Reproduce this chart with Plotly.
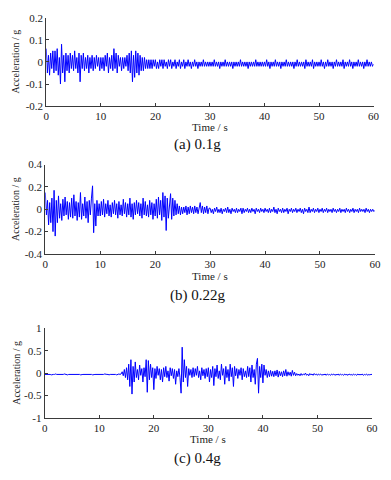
import numpy as np
import plotly.graph_objects as go

DT = 0.2  # sampling step of the digitised records, s

# ---------------- (a) 0.1g ----------------
acc_a = [
    0.06, -0.05, 0.03, -0.06, 0.04, -0.03, 0.05, -0.05, 0.05, -0.04, 0.06, -0.06, 0.02, -0.10, 0.08, -0.05, 0.03, -0.09, 0.04, -0.04, 0.03, -0.05, 0.04, -0.03, 0.03,
    -0.04, 0.05, -0.03, 0.02, -0.05, 0.04, -0.09, 0.03, -0.03, 0.04, -0.04, 0.02, -0.03, 0.03, -0.05, 0.02, -0.03, 0.03, -0.04, 0.02, -0.03, 0.03, -0.02, 0.02, -0.04,
    0.02, -0.03, 0.02, -0.04, 0.03, -0.02, 0.04, -0.05, 0.02, -0.03, 0.03, -0.04, 0.06, -0.03, 0.04, -0.05, 0.03, -0.02, 0.02, -0.04, 0.02, -0.03, 0.02, -0.02, 0.03,
    -0.04, 0.04, -0.05, 0.05, -0.09, 0.03, -0.07, 0.05, -0.05, 0.04, -0.06, 0.03, -0.04, 0.02, -0.04, 0.02, -0.03, 0.01, -0.03, 0.01, -0.03, 0.01, -0.03, 0.01, -0.02,
    0.01, -0.03, 0.00, -0.03, 0.01, -0.02, 0.01, -0.03, 0.01, -0.02, 0.00, -0.03, 0.01, -0.02, 0.01, -0.03, 0.00, -0.02, 0.01, -0.03, 0.00, -0.02, 0.01, -0.03, 0.00,
    -0.02, 0.01, -0.03, 0.00, -0.02, 0.01, -0.02, 0.00, -0.03, 0.00, -0.02, 0.01, -0.02, 0.00, -0.03, 0.00, -0.02, 0.00, -0.02, 0.01, -0.02, 0.00, -0.02, 0.00, -0.02,
    0.00, -0.02, 0.00, -0.02, 0.01, -0.02, 0.00, -0.02, 0.00, -0.03, 0.00, -0.02, 0.00, -0.02, 0.01, -0.02, 0.00, -0.02, 0.00, -0.02, 0.00, -0.03, 0.00, -0.02, 0.00,
    -0.02, 0.00, -0.02, 0.01, -0.02, 0.00, -0.02, 0.00, -0.02, 0.00, -0.03, 0.00, -0.02, 0.00, -0.02, 0.00, -0.02, 0.01, -0.02, 0.00, -0.02, 0.00, -0.02, 0.00, -0.02,
    0.00, -0.02, 0.01, -0.02, 0.00, -0.03, 0.00, -0.02, 0.00, -0.02, 0.01, -0.02, 0.00, -0.02, 0.00, -0.03, 0.00, -0.02, 0.00, -0.02, 0.01, -0.02, 0.00, -0.02, 0.00,
    -0.02, 0.00, -0.03, 0.00, -0.02, 0.01, -0.02, 0.00, -0.02, 0.00, -0.02, 0.00, -0.03, 0.01, -0.02, 0.00, -0.02, 0.00, -0.02, 0.01, -0.03, 0.00, -0.02, 0.00, -0.02,
    0.00, -0.02, 0.01, -0.02, 0.00, -0.03, 0.00, -0.02, 0.01, -0.02, 0.00, -0.02, 0.00, -0.03, 0.00, -0.02, 0.01, -0.02, 0.00, -0.02, 0.00, -0.02, 0.01, -0.03, 0.00,
    -0.02, 0.00, -0.02, 0.01, -0.02, 0.00, -0.03, 0.00, -0.02, 0.00, -0.02, 0.01, -0.02, 0.00, -0.02, 0.00, -0.03, 0.00, -0.02, 0.01, -0.02, 0.00, -0.02, 0.00, -0.02,
    -0.01,
]

# ---------------- (b) 0.22g ----------------
acc_b = [
    0.15, -0.05, 0.08, -0.14, 0.06, -0.12, 0.10, -0.20, 0.17, -0.24, 0.08, -0.12, 0.12, -0.08, 0.05, -0.10, 0.09, -0.06, 0.11, -0.05, 0.07, -0.09, 0.06, -0.07, 0.10,
    -0.08, 0.13, -0.06, 0.07, -0.10, 0.06, -0.07, 0.15, -0.09, 0.05, -0.06, 0.11, -0.08, 0.07, -0.12, 0.08, -0.05, 0.10, 0.21, -0.21, 0.05, -0.15, 0.08, -0.06, 0.05,
    -0.06, 0.07, -0.05, 0.09, -0.07, 0.05, -0.04, 0.08, -0.06, 0.04, -0.07, 0.06, -0.04, 0.08, -0.05, 0.05, -0.08, 0.07, -0.05, 0.04, -0.06, 0.09, -0.04, 0.06, -0.07,
    0.05, -0.05, 0.10, -0.07, 0.05, -0.09, 0.06, -0.05, 0.08, -0.04, 0.06, -0.06, 0.05, -0.08, 0.10, -0.05, 0.07, -0.06, 0.04, -0.07, 0.08, -0.05, 0.06, -0.09, 0.05,
    -0.06, 0.09, -0.08, 0.11, -0.05, 0.08, -0.10, 0.15, -0.07, 0.12, -0.19, 0.10, -0.08, 0.06, 0.14, -0.09, 0.10, -0.06, 0.08, -0.05, 0.05, -0.04, 0.03, -0.05, 0.02,
    -0.04, 0.02, -0.03, 0.03, -0.05, 0.02, -0.04, 0.03, -0.03, 0.02, -0.04, 0.03, -0.03, 0.02, -0.04, 0.03, 0.06, -0.03, 0.03, -0.04, 0.02, -0.03, 0.03, -0.04, 0.01,
    0.01, -0.03, 0.00, -0.04, 0.01, -0.02, 0.02, -0.03, 0.00, -0.03, 0.01, -0.04, 0.00, -0.02, 0.01, -0.03, 0.02, -0.03, 0.00, -0.04, 0.01, -0.02, 0.00, -0.03, 0.01,
    -0.03, 0.00, -0.02, 0.01, -0.04, 0.01, -0.03, 0.00, -0.02, 0.01, -0.03, 0.00, -0.03, 0.01, -0.02, 0.00, -0.04, 0.01, -0.02, 0.00, -0.03, 0.01, -0.02, 0.00, -0.03,
    0.01, -0.02, 0.00, -0.03, 0.01, -0.03, 0.00, -0.02, 0.02, -0.03, 0.00, -0.04, 0.01, -0.02, 0.00, -0.03, 0.01, -0.03, 0.00, -0.02, 0.01, -0.04, 0.00, -0.02, 0.01,
    -0.03, 0.00, -0.02, 0.01, -0.03, 0.00, -0.02, 0.01, -0.03, 0.00, -0.04, 0.01, -0.02, 0.00, -0.03, 0.02, -0.03, 0.00, -0.02, 0.01, -0.03, 0.00, -0.02, 0.01, -0.03,
    0.00, -0.02, 0.01, -0.03, 0.00, -0.02, 0.01, -0.03, 0.00, -0.02, 0.00, -0.03, 0.01, -0.02, 0.00, -0.03, 0.00, -0.02, 0.01, -0.03, 0.00, -0.02, 0.00, -0.03, 0.01,
    -0.02, 0.00, -0.03, 0.00, -0.02, 0.01, -0.03, 0.00, -0.02, 0.00, -0.03, 0.01, -0.02, 0.00, -0.02, 0.00, -0.03, 0.01, -0.02, 0.00, -0.03, 0.00, -0.02, 0.00, -0.02,
    -0.01,
]

# ---------------- (c) 0.4g ----------------
acc_c = [
    -0.03, -0.03, -0.03, -0.02, -0.03, -0.03, -0.04, -0.03, -0.03, -0.03, -0.02, -0.03, -0.03, -0.04, -0.03, -0.03, -0.03, -0.03, -0.02, -0.03, -0.03, -0.04, -0.03, -0.03, -0.03,
    -0.03, -0.03, -0.03, -0.03, -0.02, -0.03, -0.03, -0.03, -0.04, -0.03, -0.03, -0.03, -0.03, -0.03, -0.02, -0.03, -0.03, -0.03, -0.03, -0.04, -0.03, -0.03, -0.03, -0.03, -0.03,
    -0.03, -0.03, -0.04, -0.03, -0.03, -0.02, -0.03, -0.03, -0.03, -0.04, -0.03, -0.03, -0.02, -0.03, -0.03, -0.03, -0.04, -0.03, -0.02, -0.03, -0.02, 0.03, -0.06, 0.08, -0.10,
    0.12, -0.15, 0.20, -0.30, 0.30, -0.47, 0.15, -0.20, 0.25, -0.10, 0.08, -0.15, 0.18, -0.05, 0.10, -0.20, 0.12, -0.08, 0.30, -0.43, 0.28, -0.15, 0.20, -0.10, 0.12,
    -0.37, 0.10, -0.12, 0.15, -0.05, 0.10, -0.15, 0.08, -0.20, 0.12, -0.08, 0.15, -0.10, 0.05, -0.18, 0.12, -0.06, 0.10, -0.12, 0.08, -0.25, 0.05, -0.08, 0.10, -0.10,
    -0.45, 0.58, -0.20, 0.30, -0.10, 0.15, -0.30, 0.10, -0.05, 0.08, -0.10, 0.12, -0.08, 0.10, -0.05, 0.15, -0.10, 0.05, -0.15, 0.12, -0.06, 0.08, -0.12, 0.10, -0.08,
    0.12, -0.20, 0.08, -0.10, 0.15, -0.28, 0.10, -0.08, 0.18, -0.12, 0.05, -0.15, 0.20, -0.05, 0.10, -0.25, 0.15, -0.10, 0.08, -0.18, 0.20, -0.08, 0.12, -0.30, 0.15,
    -0.06, 0.10, -0.12, 0.08, -0.05, 0.12, -0.15, 0.10, -0.08, 0.05, -0.10, 0.15, -0.08, 0.12, -0.20, 0.18, -0.10, 0.08, -0.25, 0.20, 0.33, -0.45, 0.15, -0.10, 0.20,
    -0.22, 0.18, -0.05, 0.08, -0.10, 0.05, -0.08, 0.06, -0.07, 0.04, -0.08, 0.05, -0.06, 0.07, -0.09, 0.04, -0.06, 0.03, -0.08, 0.05, -0.06, 0.08, -0.07, 0.03, -0.05,
    0.02, -0.07, 0.06, -0.05, 0.02, -0.06, -0.01, -0.05, -0.02, -0.06, -0.01, -0.05, -0.02, -0.04, 0.00, -0.05, -0.02, -0.06, -0.01, -0.04, -0.02, -0.05, -0.01, -0.04, -0.02,
    -0.05, -0.02, -0.04, -0.02, -0.05, -0.03, -0.04, -0.02, -0.05, -0.02, -0.04, -0.03, -0.05, -0.02, -0.04, -0.02, -0.05, -0.03, -0.04, -0.02, -0.05, -0.02, -0.04, -0.03, -0.05,
    -0.02, -0.04, -0.03, -0.05, -0.02, -0.04, -0.03, -0.05, -0.02, -0.04, -0.03, -0.05, -0.02, -0.04, -0.03, -0.04, -0.02, -0.05, -0.03, -0.04, -0.02, -0.05, -0.03, -0.04, -0.03,
    -0.03,
]

x_ticks = [0, 10, 20, 30, 40, 50, 60]
y_ticks_a = [-0.2, -0.1, 0, 0.1, 0.2]
y_text_a = ["-0.2", "-0.1", "0", "0.1", "0.2"]
y_ticks_b = [-0.4, -0.2, 0, 0.2, 0.4]
y_text_b = ["-0.4", "-0.2", "0", "0.2", "0.4"]
y_ticks_c = [-1, -0.5, 0, 0.5, 1]
y_text_c = ["-1", "-0.5", "0", "0.5", "1"]
captions = ["(a) 0.1g", "(b) 0.22g", "(c) 0.4g"]

W, H = 391, 480
FONT = "Liberation Serif, Times New Roman, serif"
AX = "#3a3a3a"

panels = [
    # series, x px range, y px range (top, bottom), y range, ticks, texts, y px of "Time / s", caption y
    (acc_a, (44.3, 379.3), (12.0, 102.7), (-0.2, 0.2), y_ticks_a, y_text_a, 124, 142),
    (acc_b, (43.3, 380.7), (162.7, 254.3), (-0.4, 0.4), y_ticks_b, y_text_b, 277, 297),
    (acc_c, (42.7, 377.7), (330.7, 422.3), (-1, 1), y_ticks_c, y_text_c, 444, 464),
]

fig = go.Figure()
annotations = []
for i, (acc, (x0, x1), (yt, yb), yr, yv, ytxt, ty, cy) in enumerate(panels):
    n = i + 1
    xa = "x" if n == 1 else f"x{n}"
    ya = "y" if n == 1 else f"y{n}"
    t = np.arange(len(acc)) * DT
    fig.add_trace(go.Scatter(x=t, y=acc, mode="lines", xaxis=xa, yaxis=ya,
                             line=dict(color="#0000ff", width=1.0), showlegend=False,
                             hoverinfo="skip"))
    axis_common = dict(showline=True, linecolor=AX, linewidth=1, ticks="inside",
                       ticklen=3, tickcolor=AX, tickwidth=1, showgrid=False,
                       zeroline=False, mirror=False,
                       tickfont=dict(family=FONT, size=11, color="#222"))
    fig.update_layout(**{
        ("xaxis" if n == 1 else f"xaxis{n}"): dict(
            domain=[x0 / W, x1 / W], anchor=ya, range=[0, 60],
            tickvals=x_ticks, ticktext=[str(v) for v in x_ticks], **axis_common),
        ("yaxis" if n == 1 else f"yaxis{n}"): dict(
            domain=[1 - yb / H, 1 - yt / H], anchor=xa, range=list(yr),
            tickvals=yv, ticktext=ytxt, **axis_common),
    })
    annotations.append(dict(x=(x0 + x1) / 2 / W, y=1 - ty / H, xref="paper", yref="paper",
                            text="Time / s", showarrow=False, xanchor="center", yanchor="middle",
                            font=dict(family=FONT, size=11, color="#222")))
    annotations.append(dict(x=13 / W, y=1 - (yt + yb) / 2 / H, xref="paper", yref="paper",
                            text="Acceleration / g", textangle=-90, showarrow=False,
                            xanchor="center", yanchor="middle",
                            font=dict(family=FONT, size=10, color="#222")))
    annotations.append(dict(x=199 / W, y=1 - cy / H, xref="paper", yref="paper",
                            text=captions[i], showarrow=False, xanchor="center", yanchor="middle",
                            font=dict(family=FONT, size=15, color="#111")))

fig.update_layout(width=W, height=H, margin=dict(l=0, r=0, t=0, b=0),
                  paper_bgcolor="white", plot_bgcolor="white",
                  annotations=annotations, showlegend=False)

fig.write_html("out.html", config={"displayModeBar": False},
               post_script="document.body.style.margin='0';document.body.style.overflow='hidden';")
